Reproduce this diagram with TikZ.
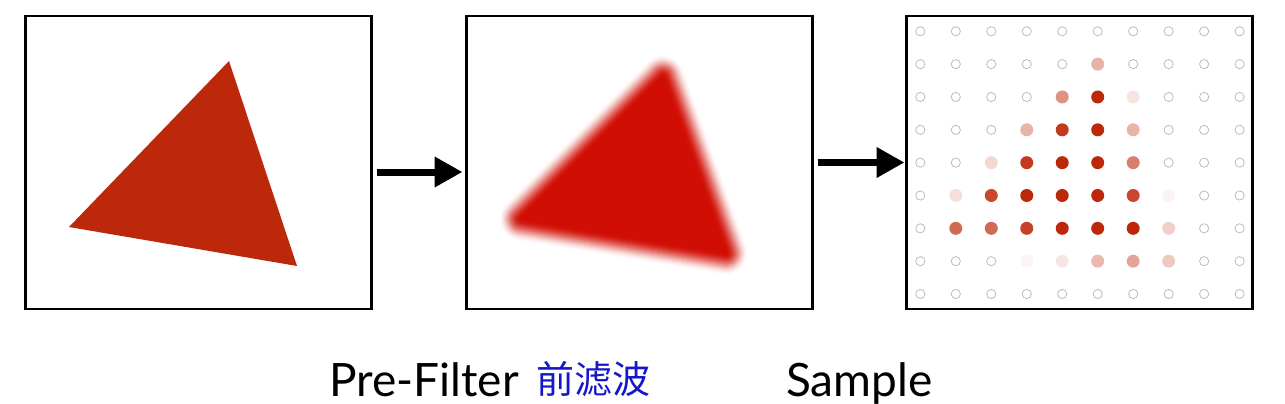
\documentclass[tikz,border=0pt]{standalone}
\usepackage{fontspec}
\setmainfont{Lato}
\newfontfamily\cjkfont{Noto Sans CJK SC}
\usetikzlibrary{positioning,arrows.meta}
\definecolor{triC}{RGB}{189,40,10}
\definecolor{blurC}{RGB}{208,14,4}
\definecolor{noteC}{RGB}{22,22,205}
\definecolor{ringC}{RGB}{188,188,188}

\begin{document}
\begin{tikzpicture}[x=1pt, y=-1pt,
  frame/.style={draw=black, line width=2.2pt, minimum width=346pt, minimum height=293pt,
                inner sep=0pt, outer sep=0pt},
  flow/.style={-{Triangle[length=28pt, width=29pt]}, line width=7pt},
  captxt/.style={font=\fontsize{46}{52}\selectfont, anchor=base west, inner sep=0pt},
  notetxt/.style={font=\cjkfont\fontsize{38}{40}\selectfont, text=noteC, anchor=base west, inner sep=0pt},
  ring/.style={draw=ringC, line width=0.8pt},
]
\useasboundingbox (0,0) rectangle (1285,404);

% ---------------- three panels ----------------
\node[frame] (orig) at (198.5,162.5) {};
\node[frame, right=95pt of orig] (filt) {};
\node[frame, right=94pt of filt] (samp) {};

% original triangle
\fill[triC] (229,61) -- (69,227) -- (297,266) -- cycle;

% blurred triangle (smoothstep fall-off over 22pt)
\begin{scope}
  \clip (469,18) rectangle (753,275);
  \fill[blurC] (663,77) -- (521,219) -- (726,253) -- cycle;
  \foreach \r in {1,...,22} {
    \pgfmathsetmacro\op{1-(3*((\r-1)/22)^2-2*((\r-1)/22)^3)/(3*(\r/22)^2-2*(\r/22)^3)}
    \draw[blurC, line width=2*\r pt, line join=round, opacity=\op]
      (663,77) -- (521,219) -- (726,253) -- cycle;
  }
\end{scope}

% sample grid
\foreach \i in {0,...,9}
  \foreach \j in {0,...,8}
    \draw[ring] (920.3+35.48*\i, 31.3+32.84*\j) circle[radius=4.6pt];
\foreach \i/\j/\p in {5/1/35,
    4/2/50, 5/2/100, 6/2/12,
    3/3/35, 4/3/92, 5/3/100, 6/3/35,
    2/4/18, 3/4/92, 4/4/100, 5/4/100, 6/4/60,
    1/5/15, 2/5/85, 3/5/100, 4/5/100, 5/5/100, 6/5/85, 7/5/5,
    1/6/70, 2/6/70, 3/6/88, 4/6/100, 5/6/100, 6/6/100, 7/6/22,
    3/7/5, 4/7/12, 5/7/33, 6/7/42, 7/7/25}
  \fill[triC!\p!white] (920.3+35.48*\i, 31.3+32.84*\j) circle[radius=6.5pt];

% ---------------- arrows ----------------
\draw[flow] ([xshift=5pt, yshift=-9.5pt]orig.east) -- ([xshift=-4pt, yshift=-9.5pt]filt.west);
\draw[flow] ([xshift=5pt]filt.east) -- ([xshift=-2pt]samp.west);

% ---------------- captions ----------------
\node[captxt]  (pre)  at (329,396) {Pre-Filter};
\node[notetxt] (hand) at (536,393) {前滤波};
\node[captxt]  (smp)  at (786,396) {Sample};

\end{tikzpicture}
\end{document}
